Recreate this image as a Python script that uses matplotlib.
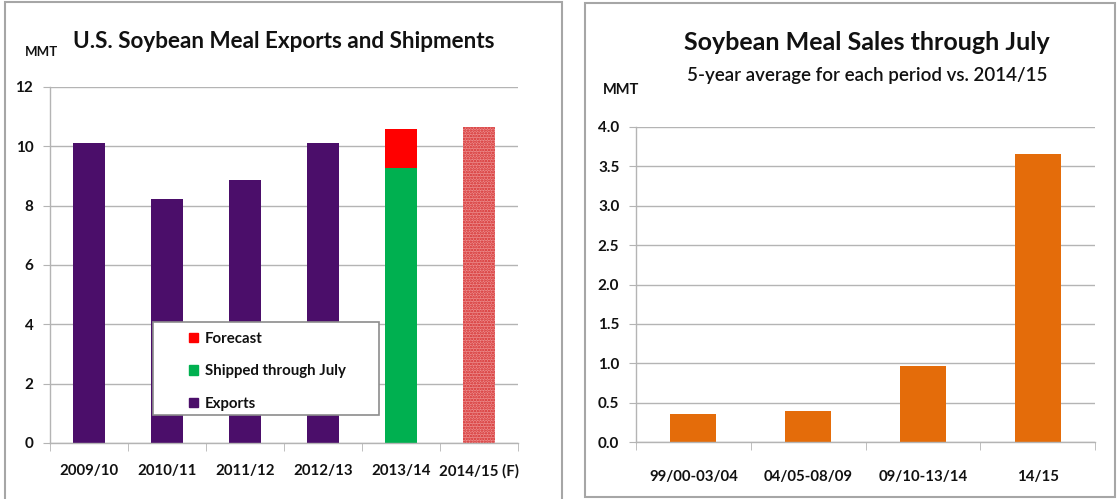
import matplotlib
matplotlib.use('Agg')
import matplotlib.pyplot as plt
from matplotlib.patches import Patch, Rectangle

plt.rcParams['font.family'] = ['Lato', 'DejaVu Sans']
plt.rcParams['font.weight'] = 'bold'
plt.rcParams['hatch.linewidth'] = 1.2

# left chart data
years = ['2009/10', '2010/11', '2011/12', '2012/13', '2013/14', '2014/15 (F)']
exports = [10.12, 8.22, 8.85, 10.12, 0, 0]
shipped = [0, 0, 0, 0, 9.28, 0]
forecast_2013 = [0, 0, 0, 0, 1.30, 0]
forecast_2014 = [0, 0, 0, 0, 0, 10.66]

# right chart data
periods = ['99/00-03/04', '04/05-08/09', '09/10-13/14', '14/15']
sales = [0.36, 0.39, 0.96, 3.66]

purple = '#4B0E6A'
green = '#00B050'
red = '#FF0000'
orange = '#E46C0A'
grid_c = '#b4b4b4'
txt_c = '#111111'

W, H = 1120, 499
fig = plt.figure(figsize=(W / 100, H / 100), dpi=100)


def fx(px):
    return px / W


def fy(py):
    return 1 - py / H


# panel frames
fig.patches.append(Rectangle((fx(5), fy(505)), fx(557), (505 - 2) / H, transform=fig.transFigure,
                             facecolor='none', edgecolor='#a6a6a6', lw=1.5))
fig.patches.append(Rectangle((fx(585), fy(497)), fx(530), (497 - 3) / H, transform=fig.transFigure,
                             facecolor='none', edgecolor='#a6a6a6', lw=1.5))


def style_axes(ax, n):
    ax.set_axisbelow(True)
    ax.yaxis.grid(True, color=grid_c, lw=1)
    for s in ['top', 'right']:
        ax.spines[s].set_visible(False)
    for s in ['left', 'bottom']:
        ax.spines[s].set_color(grid_c)
        ax.spines[s].set_linewidth(1)
    ax.set_xlim(-0.5, n - 0.5)
    ax.set_xticks([i - 0.5 for i in range(n + 1)], minor=True)
    ax.tick_params(axis='x', which='major', length=0)
    ax.tick_params(axis='x', which='minor', length=6, color=grid_c, direction='out')
    ax.tick_params(axis='y', length=5, color=grid_c, labelsize=11, pad=7, labelcolor=txt_c)


# ---- left chart
ax1 = fig.add_axes([fx(50), 1 - 443 / H, fx(468), 356 / H])
x = list(range(len(years)))
ax1.bar(x, exports, width=0.4, color=purple, zorder=2)
ax1.bar(x, shipped, width=0.4, color=green, zorder=2)
ax1.bar(x, forecast_2013, width=0.4, bottom=shipped, color=red, zorder=2)
ax1.bar(x, forecast_2014, width=0.4, facecolor='#ec8c8c', edgecolor='#d42a2a', hatch='......',
        lw=0, zorder=2)
style_axes(ax1, len(years))
ax1.set_ylim(0, 12)
ax1.set_yticks(range(0, 13, 2))
ax1.set_xticks(x)
ax1.set_xticklabels(years)
ax1.tick_params(axis='x', which='major', labelsize=10.8, pad=15, labelcolor=txt_c)

# legend box
ax1.add_patch(Rectangle((0.221, 0.079), 0.482, 0.261, transform=ax1.transAxes, facecolor='white',
                        edgecolor='#8c8c8c', lw=1.2, zorder=5, clip_on=False))
handles = [Patch(color=red), Patch(color=green), Patch(color=purple)]
labels = ['Forecast', 'Shipped through July', 'Exports']
leg = ax1.legend(handles, labels, loc='upper left', bbox_to_anchor=(0.298, 0.313), frameon=False,
                 borderpad=0, borderaxespad=0, handlelength=0.6, handleheight=0.6, handletextpad=0.45,
                 labelspacing=1.24, prop={'size': 10.8, 'weight': 'bold'})
leg.set_zorder(6)
for t in leg.get_texts():
    t.set_color(txt_c)

fig.text(fx(284), fy(42), 'U.S. Soybean Meal Exports and Shipments', ha='center', va='center',
         fontsize=16.2, fontweight='bold', color=txt_c)
fig.text(fx(41), fy(52), 'MMT', ha='center', va='center', fontsize=9.5, fontweight='bold',
         color=txt_c)

# ---- right chart
ax2 = fig.add_axes([fx(636), 1 - 442 / H, fx(459), 315 / H])
x2 = list(range(len(periods)))
ax2.bar(x2, sales, width=0.4, color=orange, zorder=2)
style_axes(ax2, len(periods))
ax2.set_ylim(0, 4)
ax2.set_yticks([i * 0.5 for i in range(9)])
ax2.set_yticklabels(['%.1f' % (i * 0.5) for i in range(9)])
ax2.set_xticks(x2)
ax2.set_xticklabels(periods)
ax2.tick_params(axis='x', which='major', labelsize=10.8, pad=20, labelcolor=txt_c)

fig.text(fx(867), fy(43), 'Soybean Meal Sales through July', ha='center', va='center',
         fontsize=18, fontweight='bold', color=txt_c)
fig.text(fx(867), fy(76), '5-year average for each period vs. 2014/15', ha='center', va='center',
         fontsize=13.5, fontweight='semibold', color=txt_c)
fig.text(fx(621), fy(90), 'MMT', ha='center', va='center', fontsize=10.5, fontweight='bold',
         color=txt_c)

fig.savefig('out.png', dpi=100)
